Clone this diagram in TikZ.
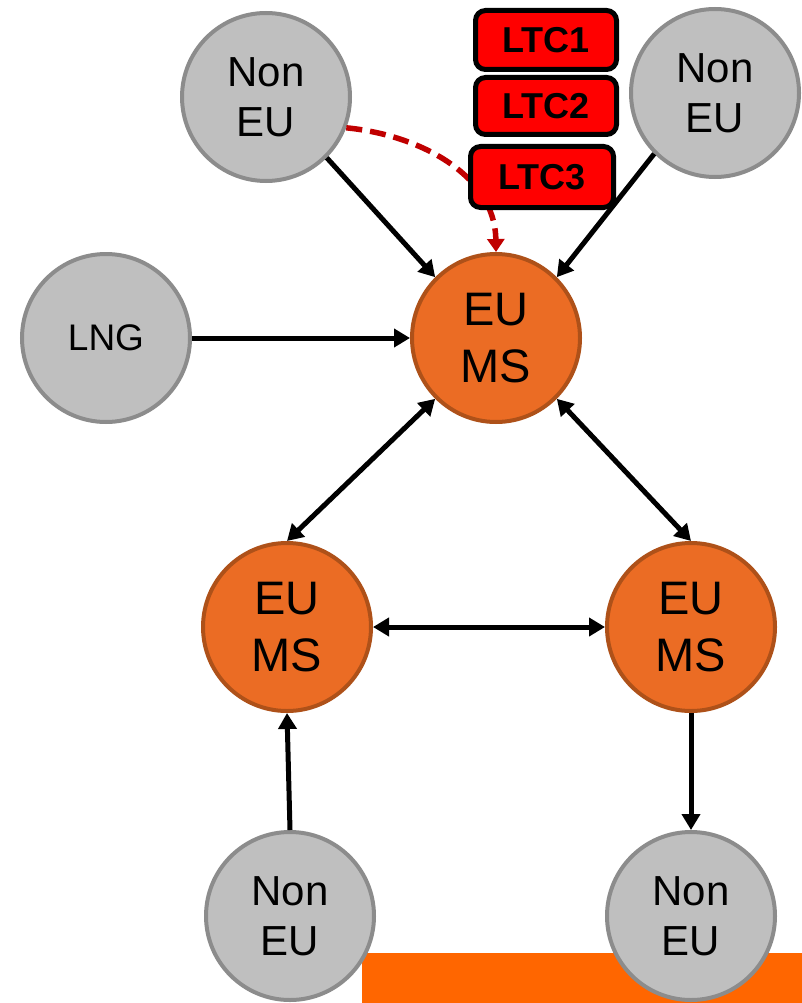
\documentclass[tikz,border=0pt]{standalone}
\usepackage{fontspec}
\setmainfont{Liberation Sans}
\usetikzlibrary{arrows.meta}

\definecolor{greyfill}{HTML}{BFBFBF}
\definecolor{greyline}{HTML}{8C8C8C}
\definecolor{msfill}{HTML}{EB6C24}
\definecolor{msline}{HTML}{AE5119}
\definecolor{barorange}{HTML}{FF6600}
\definecolor{contractred}{HTML}{FF0000}
\definecolor{dashred}{HTML}{C00000}

\tikzset{
  noneu/.style={circle, minimum size=168pt, inner sep=0pt, line width=4pt,
    draw=greyline, fill=greyfill, align=center,
    font=\fontsize{42}{50}\selectfont},
  memberstate/.style={circle, minimum size=168pt, inner sep=0pt, line width=4pt,
    draw=msline, fill=msfill, align=center,
    font=\fontsize{47}{57}\selectfont},
  ltcbox/.style={draw=black, line width=5pt, fill=contractred,
    rounded corners=10pt, inner sep=0pt,
    font=\bfseries\fontsize{36}{40}\selectfont},
  flow/.style={line width=5pt, -{Triangle[length=16pt,width=18pt]}},
  twoway/.style={line width=5pt,
    {Triangle[length=16pt,width=18pt]}-{Triangle[length=16pt,width=18pt]}},
  contract/.style={dashred, line width=5.5pt, dash pattern=on 16pt off 8pt,
    -{Triangle[length=13pt,width=17pt]}}
}

\begin{document}
\begin{tikzpicture}[x=1pt, y=-1pt]
\useasboundingbox (0,0) rectangle (802,1003);

% orange band along the bottom edge
\fill[barorange] (362,953) rectangle (802,1003);

% supply nodes and member states
\node[noneu] (ntl) at (266,97) {Non\\EU};
\node[noneu] (ntr) at (715,93) {Non\\EU};
\node[noneu, font=\fontsize{37}{44}\selectfont] (lng) at (106,338) {LNG};
\node[memberstate] (ms) at (496,338) {EU\\MS};
\node[memberstate] (msl) at (287,627) {EU\\MS};
\node[memberstate] (msr) at (691,627) {EU\\MS};
\node[noneu] (nbl) at (290,916) {Non\\EU};
\node[noneu] (nbr) at (691,916) {Non\\EU};

% long-term contract route
\draw[contract] (ntl.-21) .. controls (420,135) and (495,175) .. (ms.north);

% physical flows
\draw[flow] (ntl.-45) -- (ms.135);
\draw[flow] (ntr.225) -- (ms.45);
\draw[flow] (lng.east) -- (ms.west);
\draw[twoway] (ms.225) -- (msl.north);
\draw[twoway] (ms.-45) -- (msr.north);
\draw[twoway] (msl.east) -- (msr.west);
\draw[flow] (nbl.north) -- (msl.south);
\draw[flow] (msr.south) -- (nbr.north);

% long-term contracts
\node[ltcbox, minimum width=141pt, minimum height=59pt] (ltc1) at (546,40) {LTC1};
\node[ltcbox, minimum width=141pt, minimum height=57pt] (ltc2) at (546,106) {LTC2};
\node[ltcbox, minimum width=143pt, minimum height=61pt] (ltc3) at (542,177) {LTC3};
\end{tikzpicture}
\end{document}
